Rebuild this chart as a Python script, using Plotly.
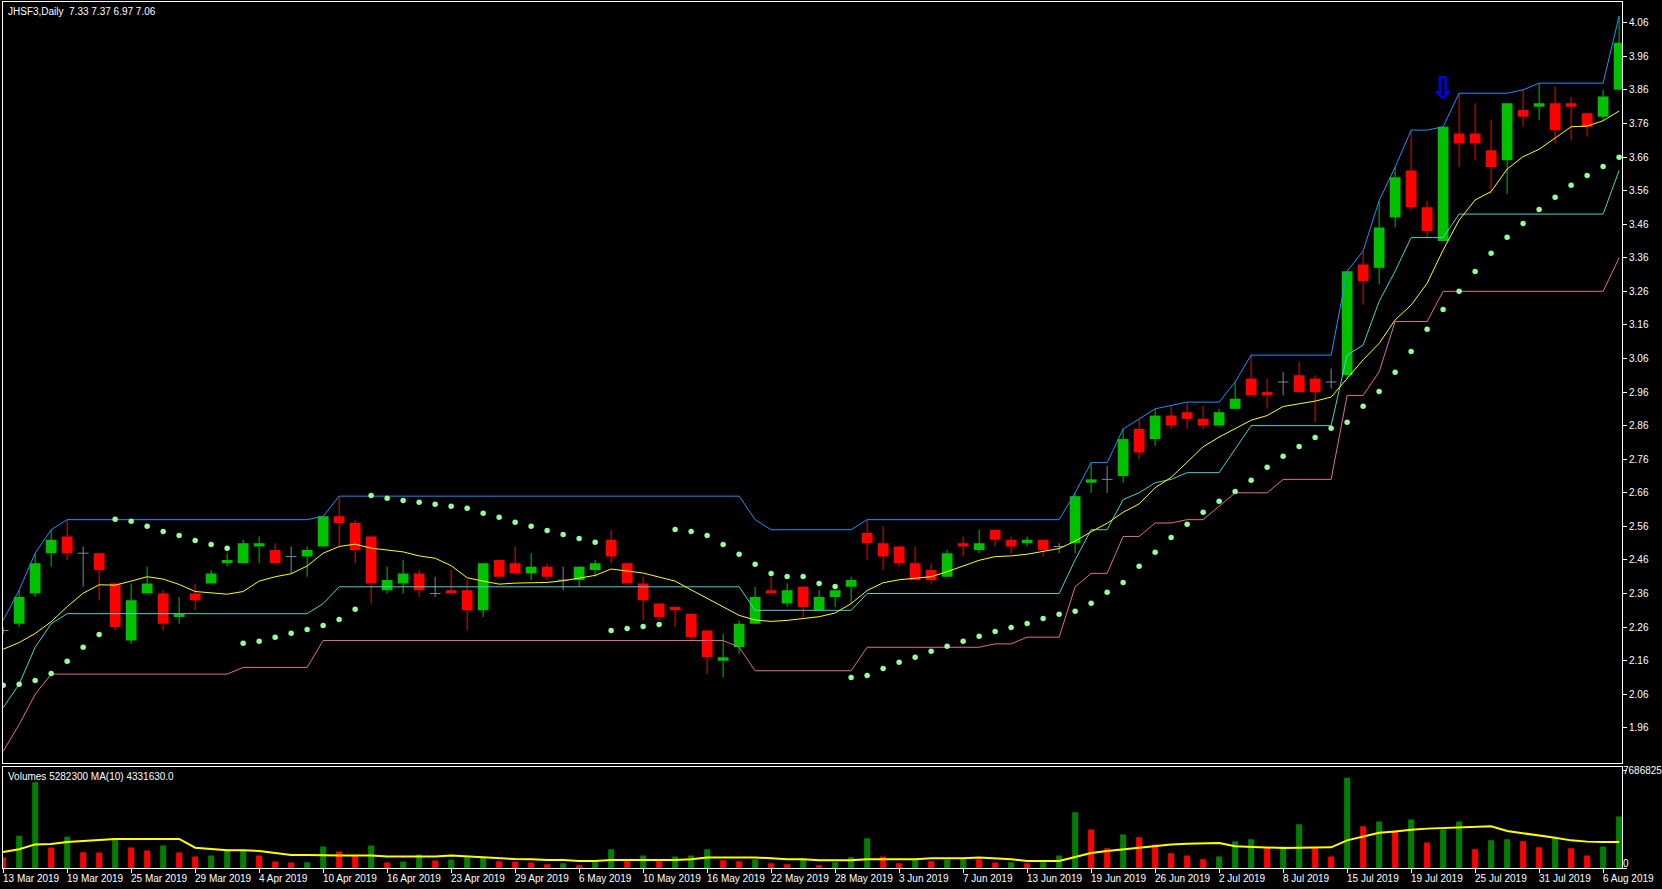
import plotly.graph_objects as go

# ---------------- data ----------------
title_text = "JHSF3,Daily\u00a0\u00a07.33 7.37 6.97 7.06"
volume_title = "Volumes 5282300 MA(10) 4331630.0"

date_labels = ["13 Mar 2019", "19 Mar 2019", "25 Mar 2019", "29 Mar 2019", "4 Apr 2019",
               "10 Apr 2019", "16 Apr 2019", "23 Apr 2019", "29 Apr 2019", "6 May 2019",
               "10 May 2019", "16 May 2019", "22 May 2019", "28 May 2019", "3 Jun 2019",
               "7 Jun 2019", "13 Jun 2019", "19 Jun 2019", "26 Jun 2019", "2 Jul 2019",
               "8 Jul 2019", "15 Jul 2019", "19 Jul 2019", "25 Jul 2019", "31 Jul 2019",
               "6 Aug 2019"]
date_label_bars = [0, 4, 8, 12, 16, 20, 24, 28, 32, 36, 40, 44, 48, 52, 56, 60, 64, 68,
                   72, 76, 80, 84, 88, 92, 96, 100]

price_ticks = [1.96, 2.06, 2.16, 2.26, 2.36, 2.46, 2.56, 2.66, 2.76, 2.86, 2.96, 3.06,
               3.16, 3.26, 3.36, 3.46, 3.56, 3.66, 3.76, 3.86, 3.96, 4.06]
volume_ticks = [0, 7686825]

opens = [2.25, 2.27, 2.36, 2.48, 2.53, 2.48, 2.48, 2.39, 2.22, 2.36,
         2.36, 2.29, 2.36, 2.39, 2.45, 2.45, 2.50, 2.49, 2.47, 2.47,
         2.50, 2.59, 2.57, 2.53, 2.37, 2.39, 2.42, 2.36, 2.37, 2.37,
         2.31, 2.46, 2.45, 2.42, 2.44, 2.40, 2.40, 2.43, 2.52, 2.45,
         2.39, 2.33, 2.32, 2.30, 2.25, 2.16, 2.20, 2.27, 2.37, 2.33,
         2.38, 2.31, 2.35, 2.38, 2.54, 2.51, 2.50, 2.45, 2.43, 2.41,
         2.51, 2.49, 2.55, 2.52, 2.51, 2.52, 2.50, 2.51, 2.69, 2.70,
         2.71, 2.85, 2.82, 2.89, 2.90, 2.88, 2.86, 2.91, 3.00, 2.96,
         2.99, 3.01, 3.00, 2.99, 3.01, 3.34, 3.33, 3.48, 3.62, 3.51,
         3.41, 3.73, 3.73, 3.68, 3.65, 3.80, 3.81, 3.82, 3.82, 3.79,
         3.78, 3.86]
highs = [2.26, 2.37, 2.48, 2.55, 2.58, 2.50, 2.48, 2.39, 2.39, 2.44,
         2.37, 2.35, 2.39, 2.43, 2.48, 2.52, 2.53, 2.51, 2.50, 2.50,
         2.59, 2.65, 2.58, 2.53, 2.44, 2.46, 2.43, 2.41, 2.43, 2.40,
         2.45, 2.46, 2.50, 2.48, 2.45, 2.44, 2.44, 2.46, 2.55, 2.45,
         2.41, 2.33, 2.32, 2.30, 2.25, 2.24, 2.28, 2.38, 2.41, 2.39,
         2.38, 2.37, 2.37, 2.41, 2.58, 2.56, 2.50, 2.50, 2.45, 2.49,
         2.53, 2.55, 2.55, 2.53, 2.53, 2.52, 2.51, 2.66, 2.75, 2.74,
         2.85, 2.88, 2.91, 2.92, 2.93, 2.92, 2.91, 2.99, 3.07, 3.00,
         3.02, 3.05, 3.01, 3.03, 3.32, 3.38, 3.53, 3.63, 3.74, 3.53,
         3.75, 3.85, 3.82, 3.77, 3.82, 3.86, 3.88, 3.87, 3.84, 3.79,
         3.86, 4.08]
lows = [2.24, 2.26, 2.35, 2.44, 2.46, 2.38, 2.34, 2.25, 2.21, 2.36,
        2.25, 2.27, 2.31, 2.39, 2.44, 2.45, 2.45, 2.45, 2.42, 2.41,
        2.50, 2.50, 2.45, 2.33, 2.36, 2.36, 2.35, 2.35, 2.36, 2.25,
        2.29, 2.41, 2.42, 2.40, 2.40, 2.37, 2.38, 2.41, 2.45, 2.39,
        2.28, 2.28, 2.26, 2.22, 2.12, 2.11, 2.18, 2.27, 2.36, 2.32,
        2.29, 2.31, 2.32, 2.33, 2.46, 2.43, 2.44, 2.40, 2.39, 2.41,
        2.47, 2.48, 2.50, 2.48, 2.50, 2.47, 2.48, 2.48, 2.66, 2.66,
        2.69, 2.76, 2.80, 2.85, 2.85, 2.85, 2.86, 2.91, 2.95, 2.91,
        2.95, 2.96, 2.87, 2.97, 3.00, 3.22, 3.28, 3.45, 3.50, 3.42,
        3.41, 3.63, 3.65, 3.55, 3.55, 3.75, 3.77, 3.70, 3.71, 3.72,
        3.77, 3.86]
closes = [2.25, 2.35, 2.45, 2.52, 2.48, 2.48, 2.43, 2.26, 2.34, 2.39,
          2.27, 2.30, 2.34, 2.42, 2.46, 2.51, 2.51, 2.45, 2.47, 2.49,
          2.59, 2.57, 2.49, 2.39, 2.40, 2.42, 2.37, 2.36, 2.36, 2.31,
          2.45, 2.41, 2.42, 2.44, 2.41, 2.40, 2.44, 2.45, 2.47, 2.39,
          2.34, 2.29, 2.31, 2.23, 2.17, 2.17, 2.27, 2.35, 2.36, 2.37,
          2.32, 2.35, 2.37, 2.40, 2.51, 2.47, 2.45, 2.40, 2.40, 2.48,
          2.50, 2.51, 2.52, 2.50, 2.52, 2.49, 2.50, 2.65, 2.70, 2.70,
          2.82, 2.78, 2.89, 2.86, 2.88, 2.86, 2.90, 2.94, 2.95, 2.95,
          2.99, 2.96, 2.96, 2.99, 3.32, 3.29, 3.45, 3.60, 3.51, 3.44,
          3.75, 3.70, 3.70, 3.63, 3.82, 3.78, 3.82, 3.74, 3.81, 3.75,
          3.84, 4.00]

upper_band = [2.28, 2.37, 2.48, 2.55, 2.58, 2.58, 2.58, 2.58, 2.58, 2.58,
              2.58, 2.58, 2.58, 2.58, 2.58, 2.58, 2.58, 2.58, 2.58, 2.58,
              2.59, 2.65, 2.65, 2.65, 2.65, 2.65, 2.65, 2.65, 2.65, 2.65,
              2.65, 2.65, 2.65, 2.65, 2.65, 2.65, 2.65, 2.65, 2.65, 2.65,
              2.65, 2.65, 2.65, 2.65, 2.65, 2.65, 2.65, 2.58, 2.55, 2.55,
              2.55, 2.55, 2.55, 2.55, 2.58, 2.58, 2.58, 2.58, 2.58, 2.58,
              2.58, 2.58, 2.58, 2.58, 2.58, 2.58, 2.58, 2.66, 2.75, 2.75,
              2.85, 2.88, 2.91, 2.92, 2.93, 2.93, 2.93, 2.99, 3.07, 3.07,
              3.07, 3.07, 3.07, 3.07, 3.32, 3.38, 3.53, 3.63, 3.74, 3.74,
              3.75, 3.85, 3.85, 3.85, 3.85, 3.86, 3.88, 3.88, 3.88, 3.88,
              3.88, 4.08]
middle_band = [2.02, 2.09, 2.20, 2.27, 2.30, 2.30, 2.30, 2.30, 2.30, 2.30,
               2.30, 2.30, 2.30, 2.30, 2.30, 2.30, 2.30, 2.30, 2.30, 2.30,
               2.33, 2.38, 2.38, 2.38, 2.38, 2.38, 2.38, 2.38, 2.38, 2.38,
               2.38, 2.38, 2.38, 2.38, 2.38, 2.38, 2.38, 2.38, 2.38, 2.38,
               2.38, 2.38, 2.38, 2.38, 2.38, 2.38, 2.38, 2.31, 2.31, 2.31,
               2.31, 2.31, 2.31, 2.31, 2.36, 2.36, 2.36, 2.36, 2.36, 2.36,
               2.36, 2.36, 2.36, 2.36, 2.36, 2.36, 2.36, 2.46, 2.55, 2.55,
               2.64, 2.66, 2.69, 2.70, 2.72, 2.72, 2.72, 2.79, 2.86, 2.86,
               2.86, 2.86, 2.86, 2.86, 3.07, 3.10, 3.23, 3.32, 3.42, 3.42,
               3.42, 3.49, 3.49, 3.49, 3.49, 3.49, 3.49, 3.49, 3.49, 3.49,
               3.49, 3.62]
lower_band = [1.89, 1.97, 2.06, 2.12, 2.12, 2.12, 2.12, 2.12, 2.12, 2.12,
              2.12, 2.12, 2.12, 2.12, 2.12, 2.14, 2.14, 2.14, 2.14, 2.14,
              2.22, 2.22, 2.22, 2.22, 2.22, 2.22, 2.22, 2.22, 2.22, 2.22,
              2.22, 2.22, 2.22, 2.22, 2.22, 2.22, 2.22, 2.22, 2.22, 2.22,
              2.22, 2.22, 2.22, 2.22, 2.22, 2.22, 2.20, 2.13, 2.13, 2.13,
              2.13, 2.13, 2.13, 2.13, 2.20, 2.20, 2.20, 2.20, 2.20, 2.20,
              2.20, 2.20, 2.21, 2.21, 2.23, 2.23, 2.23, 2.38, 2.42, 2.42,
              2.53, 2.53, 2.57, 2.57, 2.58, 2.58, 2.62, 2.66, 2.66, 2.66,
              2.70, 2.70, 2.70, 2.70, 2.95, 2.95, 3.02, 3.17, 3.17, 3.17,
              3.26, 3.26, 3.26, 3.26, 3.26, 3.26, 3.26, 3.26, 3.26, 3.26,
              3.26, 3.36]
moving_avg = [2.194, 2.214, 2.241, 2.276, 2.321, 2.361, 2.386, 2.385, 2.397, 2.410,
              2.403, 2.387, 2.366, 2.361, 2.358, 2.366, 2.397, 2.410, 2.419, 2.442,
              2.480, 2.500, 2.507, 2.495, 2.490, 2.484, 2.472, 2.465, 2.443, 2.407,
              2.397, 2.388, 2.391, 2.393, 2.393, 2.398, 2.405, 2.414, 2.433, 2.426,
              2.421, 2.409, 2.397, 2.371, 2.346, 2.319, 2.295, 2.281, 2.277, 2.280,
              2.285, 2.291, 2.302, 2.330, 2.369, 2.392, 2.401, 2.405, 2.410, 2.425,
              2.443, 2.459, 2.470, 2.472, 2.477, 2.485, 2.494, 2.516, 2.544, 2.569,
              2.602, 2.627, 2.675, 2.706, 2.752, 2.797, 2.826, 2.851, 2.876, 2.890,
              2.917, 2.925, 2.933, 2.945, 3.001, 3.056, 3.105, 3.175, 3.219, 3.284,
              3.383, 3.472, 3.532, 3.557, 3.624, 3.661, 3.683, 3.716, 3.750, 3.752,
              3.768, 3.797]
parabolic_sar = [2.087, 2.090, 2.101, 2.122, 2.158, 2.200, 2.238, 2.581, 2.575, 2.560,
                 2.545, 2.533, 2.518, 2.506, 2.495, 2.212, 2.218, 2.230, 2.242, 2.253,
                 2.265, 2.283, 2.313, 2.652, 2.644, 2.637, 2.632, 2.626, 2.620, 2.614,
                 2.599, 2.587, 2.572, 2.560, 2.548, 2.536, 2.524, 2.513, 2.250, 2.256,
                 2.262, 2.268, 2.551, 2.545, 2.533, 2.506, 2.477, 2.447, 2.420, 2.411,
                 2.411, 2.390, 2.381, 2.110, 2.116, 2.137, 2.155, 2.170, 2.188, 2.203,
                 2.218, 2.233, 2.247, 2.259, 2.271, 2.286, 2.298, 2.307, 2.331, 2.364,
                 2.393, 2.441, 2.483, 2.527, 2.566, 2.602, 2.635, 2.664, 2.697, 2.736,
                 2.769, 2.798, 2.825, 2.852, 2.870, 2.918, 2.962, 3.019, 3.081, 3.147,
                 3.206, 3.260, 3.319, 3.373, 3.421, 3.462, 3.504, 3.540, 3.576, 3.605,
                 3.632, 3.659]

volumes = [840000, 2560000, 6800000, 1620000, 2480000, 1240000, 1220000, 2330000, 1620000, 1390000,
           1780000, 1230000, 920000, 990000, 1360000, 1390000, 990000, 520000, 430000, 460000,
           1700000, 1310000, 990000, 1780000, 440000, 520000, 1070000, 600000, 680000, 850000,
           880000, 530000, 510000, 440000, 290000, 370000, 210000, 450000, 1480000, 530000,
           1000000, 530000, 920000, 1000000, 1480000, 610000, 530000, 690000, 370000, 290000,
           690000, 210000, 450000, 850000, 2350000, 920000, 370000, 690000, 530000, 660000,
           700000, 680000, 430000, 460000, 370000, 450000, 1000000, 4410000, 3060000, 1560000,
           2660000, 2430000, 1870000, 1160000, 1000000, 690000, 920000, 2110000, 2270000, 1560000,
           1710000, 3460000, 1560000, 920000, 7160000, 3300000, 3690000, 2980000, 3850000, 2030000,
           3060000, 3690000, 1480000, 2190000, 2270000, 2110000, 1640000, 2350000, 1560000, 1000000,
           1710000, 4090000]
volume_ma = [1270000, 1480000, 1870000, 1900000, 2060000, 2140000, 2220000, 2300000, 2300000, 2300000,
             2300000, 2300000, 1610000, 1500000, 1400000, 1400000, 1350000, 1190000, 1030000, 1030000,
             1000000, 1000000, 1000000, 1000000, 920000, 920000, 920000, 920000, 1000000, 920000,
             840000, 770000, 710000, 690000, 630000, 630000, 550000, 550000, 630000, 630000,
             630000, 630000, 630000, 690000, 840000, 840000, 840000, 840000, 770000, 690000,
             690000, 610000, 610000, 610000, 690000, 690000, 690000, 690000, 770000, 770000,
             770000, 840000, 770000, 690000, 550000, 550000, 550000, 870000, 1190000, 1350000,
             1480000, 1660000, 1770000, 1870000, 1930000, 1980000, 1980000, 1720000, 1660000, 1640000,
             1580000, 1610000, 1640000, 1640000, 2190000, 2510000, 2800000, 2900000, 3040000, 3120000,
             3170000, 3250000, 3250000, 3300000, 2930000, 2770000, 2560000, 2400000, 2190000, 2090000,
             2060000, 2060000]

arrow_bar = 90
arrow_price = 3.865

# ---------------- styling ----------------
BULL = "#00c000"
BEAR = "#ff0000"
DOJI = "#778899"
VOL_UP = "#008000"
VOL_DN = "#ff0000"
FONT = "Liberation Sans"
WHITE = "#ffffff"
BODY_W = 0.67
VOL_W = 0.375

n = len(closes)
bars = list(range(n))
up = [i for i in bars if closes[i] > opens[i]]
dn = [i for i in bars if closes[i] < opens[i]]
dj = [i for i in bars if closes[i] == opens[i]]

fig = go.Figure()


def wick_xy(ids):
    xs, ys = [], []
    for i in ids:
        xs += [i, i, None]
        ys += [lows[i], highs[i], None]
    return xs, ys


# wicks
for ids, col in ((up, BULL), (dn, BEAR), (dj, DOJI)):
    wx, wy = wick_xy(ids)
    fig.add_trace(go.Scatter(x=wx, y=wy, mode="lines", line=dict(color=col, width=1),
                             hoverinfo="skip", xaxis="x", yaxis="y"))

# bodies
fig.add_trace(go.Bar(x=up, y=[closes[i] - opens[i] for i in up], base=[opens[i] for i in up],
                     width=BODY_W, marker=dict(color=BULL, line=dict(width=0)),
                     hoverinfo="skip", xaxis="x", yaxis="y"))
fig.add_trace(go.Bar(x=dn, y=[opens[i] - closes[i] for i in dn], base=[closes[i] for i in dn],
                     width=BODY_W, marker=dict(color=BEAR, line=dict(width=0)),
                     hoverinfo="skip", xaxis="x", yaxis="y"))
dx, dy = [], []
for i in dj:
    dx += [i - BODY_W / 2, i + BODY_W / 2, None]
    dy += [opens[i], opens[i], None]
fig.add_trace(go.Scatter(x=dx, y=dy, mode="lines", line=dict(color=DOJI, width=1),
                         hoverinfo="skip", xaxis="x", yaxis="y"))

# indicator lines
for series, col in ((upper_band, "#1e90ff"), (middle_band, "#48d1cc"),
                    (lower_band, "#db7093"), (moving_avg, "#ffff00")):
    fig.add_trace(go.Scatter(x=bars, y=series, mode="lines", line=dict(color=col, width=1),
                             hoverinfo="skip", xaxis="x", yaxis="y"))

fig.add_trace(go.Scatter(x=bars, y=parabolic_sar, mode="markers",
                         marker=dict(color="#98fb98", size=5.5, line=dict(width=0)),
                         hoverinfo="skip", xaxis="x", yaxis="y"))

# volume
vol_colors = [VOL_DN] + [VOL_UP if volumes[i] > volumes[i - 1] else VOL_DN for i in range(1, n)]
fig.add_trace(go.Bar(x=bars, y=volumes, width=VOL_W, marker=dict(color=vol_colors, line=dict(width=0)),
                     hoverinfo="skip", xaxis="x2", yaxis="y2"))
fig.add_trace(go.Scatter(x=bars, y=volume_ma, mode="lines", line=dict(color="#ffff00", width=2),
                         hoverinfo="skip", xaxis="x2", yaxis="y2"))

# ---------------- layout ----------------
X_RANGE = [-0.01, 101.18]
MAIN_DOMAIN = [0.1207, 1.0]
VOL_DOMAIN = [0.0, 0.1172]

annotations = [
    dict(text=title_text, x=0, xref="paper", xanchor="left", xshift=3,
         y=1, yref="paper", yanchor="top", yshift=-2, showarrow=False,
         font=dict(family=FONT, size=10, color=WHITE)),
    dict(text=volume_title, x=0, xref="paper", xanchor="left", xshift=3,
         y=VOL_DOMAIN[1], yref="paper", yanchor="top", yshift=-2, showarrow=False,
         font=dict(family=FONT, size=10, color=WHITE)),
    dict(text="\u21e9", x=arrow_bar, xref="x", y=arrow_price, yref="y", showarrow=False,
         font=dict(family="DejaVu Sans", size=31, color="#0000ff", weight="bold")),
]
for b, lab in zip(date_label_bars, date_labels):
    annotations.append(dict(text=lab, x=b, xref="x2", xanchor="left", xshift=-2,
                            y=0, yref="paper", yanchor="top", yshift=-3, showarrow=False,
                            font=dict(family=FONT, size=10, color=WHITE)))
for v, yshift in zip(volume_ticks, (5, 0)):
    annotations.append(dict(text=str(v), x=1, xref="paper", xanchor="left", xshift=-1,
                            y=v, yref="y2", yanchor="middle", yshift=yshift, showarrow=False,
                            font=dict(family=FONT, size=10, color=WHITE)))

axis_common = dict(showgrid=False, zeroline=False, showline=True, mirror=True,
                   linecolor=WHITE, linewidth=1)

fig.update_layout(
    width=1662, height=889,
    margin=dict(l=3, r=40, t=2, b=21),
    paper_bgcolor="#000000", plot_bgcolor="#000000",
    showlegend=False, barmode="overlay", hovermode=False,
    xaxis=dict(domain=[0, 1], anchor="y", range=X_RANGE, showticklabels=False, ticks="",
               **axis_common),
    yaxis=dict(domain=MAIN_DOMAIN, anchor="x", range=[1.8539, 4.1216], side="right",
               tickvals=price_ticks, ticktext=["%.2f" % v for v in price_ticks],
               ticks="outside", ticklen=4, tickcolor=WHITE,
               tickfont=dict(family=FONT, size=10, color=WHITE), **axis_common),
    xaxis2=dict(domain=[0, 1], anchor="y2", range=X_RANGE, tickvals=date_label_bars,
                showticklabels=False, ticks="outside", ticklen=4, tickcolor=WHITE,
                **axis_common),
    yaxis2=dict(domain=VOL_DOMAIN, anchor="x2", range=[0, 8043000], side="right",
                tickvals=volume_ticks, showticklabels=False, ticks="outside", ticklen=4,
                tickcolor=WHITE, **axis_common),
    annotations=annotations,
)

fig.write_html("out.html", config={"displayModeBar": False},
               post_script="document.body.style.margin='0px';document.body.style.background='#000';")
